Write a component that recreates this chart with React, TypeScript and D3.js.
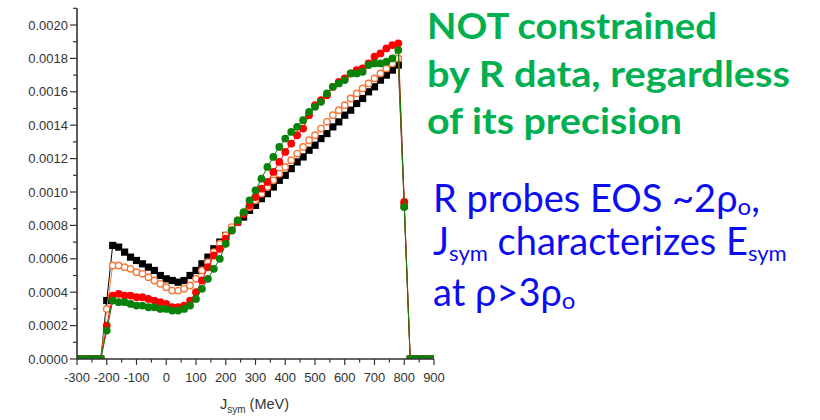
import React from "react";
import * as d3 from "d3";

const XS = [-300, -280, -260, -240, -220, -200, -180, -160, -140, -120, -100, -80, -60, -40, -20, 0, 20, 40, 60, 80, 100, 120, 140, 160, 180, 200, 220, 240, 260, 280, 300, 320, 340, 360, 380, 400, 420, 440, 460, 480, 500, 520, 540, 560, 580, 600, 620, 640, 660, 680, 700, 720, 740, 760, 780, 800, 820, 840, 860, 880, 900];

const BLACK = [0, 0, 0, 0, 0, 0.00035, 0.00068, 0.00067, 0.00064, 0.00061, 0.00059, 0.00057, 0.00055, 0.00053, 0.0005, 0.00048, 0.00047, 0.00046, 0.00047, 0.0005, 0.00053, 0.00057, 0.00061, 0.00066, 0.0007, 0.00074, 0.00078, 0.00082, 0.00085, 0.00089, 0.00092, 0.00096, 0.00099, 0.00103, 0.00107, 0.0011, 0.00114, 0.00118, 0.00121, 0.00125, 0.00128, 0.00132, 0.00135, 0.00139, 0.00142, 0.00146, 0.00149, 0.00153, 0.00156, 0.0016, 0.00163, 0.00167, 0.0017, 0.00173, 0.00176, 0.00092, 0, 0, 0, 0, 0];

const ORANGE = [0, 0, 0, 0, 0, 0.0003, 0.00056, 0.00056, 0.00055, 0.00054, 0.00052, 0.00051, 0.00049, 0.00047, 0.00045, 0.00043, 0.00041, 0.00041, 0.00042, 0.00044, 0.00048, 0.00053, 0.00058, 0.00064, 0.00069, 0.00074, 0.00079, 0.00083, 0.00087, 0.00091, 0.00095, 0.00099, 0.00103, 0.00107, 0.00111, 0.00115, 0.00119, 0.00123, 0.00127, 0.00131, 0.00134, 0.00138, 0.00142, 0.00146, 0.00149, 0.00152, 0.00156, 0.00159, 0.00162, 0.00165, 0.00168, 0.00171, 0.00174, 0.00177, 0.0018, 0.00093, 0, 0, 0, 0, 0];

const RED = [0, 0, 0, 0, 0, 0.0002, 0.00038, 0.00039, 0.00038, 0.00038, 0.00037, 0.00037, 0.00036, 0.00035, 0.00034, 0.00033, 0.00031, 0.00031, 0.00032, 0.00035, 0.0004, 0.00047, 0.00055, 0.00062, 0.00066, 0.00072, 0.00077, 0.00082, 0.00087, 0.00092, 0.00097, 0.00102, 0.00106, 0.00112, 0.00118, 0.00124, 0.00129, 0.00134, 0.00138, 0.00146, 0.00152, 0.00155, 0.00158, 0.00163, 0.00166, 0.00168, 0.00171, 0.00173, 0.00174, 0.00177, 0.00181, 0.00183, 0.00186, 0.00188, 0.00189, 0.00094, 0, 0, 0, 0, 0];

const GREEN = [0, 0, 0, 0, 0, 0.00017, 0.00035, 0.00034, 0.00034, 0.00033, 0.00032, 0.00032, 0.00031, 0.00031, 0.0003, 0.0003, 0.00029, 0.00029, 0.0003, 0.00032, 0.00036, 0.00042, 0.00048, 0.00054, 0.0006, 0.00069, 0.00077, 0.00083, 0.00088, 0.00095, 0.00101, 0.00108, 0.00115, 0.00121, 0.00127, 0.00132, 0.00136, 0.00139, 0.00143, 0.00148, 0.00151, 0.00154, 0.00159, 0.00163, 0.00165, 0.00167, 0.00171, 0.00171, 0.00172, 0.00176, 0.00177, 0.00177, 0.00178, 0.0018, 0.00185, 0.00091, 0, 0, 0, 0, 0];

const X_TICKS = [-300, -200, -100, 0, 100, 200, 300, 400, 500, 600, 700, 800, 900];
const X_MINOR = [-250, -150, -50, 50, 150, 250, 350, 450, 550, 650, 750, 850];
const Y_TICKS = [0, 0.0002, 0.0004, 0.0006, 0.0008, 0.001, 0.0012, 0.0014, 0.0016, 0.0018, 0.002];
const Y_MINOR = [0.0001, 0.0003, 0.0005, 0.0007, 0.0009, 0.0011, 0.0013, 0.0015, 0.0017, 0.0019, 0.0021];

const GREEN_LINES = ["NOT constrained", "by R data, regardless", "of its precision"];
const GREEN_WIDTHS = [290, 363, 255];

export default function App() {
  const x = d3.scaleLinear().domain([-300, 900]).range([77, 434]);
  const y = d3.scaleLinear().domain([0, 0.0021]).range([359, 8.3]);
  const fmt = d3.format(".4f");
  const axisFont = "'Liberation Sans', Arial, sans-serif";
  const axisColor = "#333";

  const series = [
    { vals: BLACK, color: "#000000", kind: "square" },
    { vals: ORANGE, color: "#f5793a", kind: "open" },
    { vals: RED, color: "#ff0000", kind: "circle" },
    { vals: GREEN, color: "#0a820a", kind: "circle" },
  ];

  const line = d3
    .line<number>()
    .x((_, i) => x(XS[i]))
    .y((d) => y(d));

  const textFont = "Lato, 'Open Sans', sans-serif";
  const blue = "#0c0cf0";

  return (
    <svg width={820} height={420} style={{ position: "absolute", left: 0, top: 0, background: "#fff" }}>
      <defs>
        <clipPath id="plotClip">
          <rect x={x(-300)} y={0} width={x(900) - x(-300)} height={y(0)} />
        </clipPath>
      </defs>
      <rect x={0} y={0} width={820} height={420} fill="#fff" />

      {/* series */}
      <g clipPath="url(#plotClip)">
        {series.map((s, si) => (
          <g key={"s" + si}>
            <path d={line(s.vals) || ""} fill="none" stroke={s.color} strokeWidth={1} />
            {s.vals.map((v, i) =>
              s.kind === "square" ? (
                <rect key={i} x={x(XS[i]) - 3.6} y={y(v) - 3.6} width={7.2} height={7.2} fill={s.color} />
              ) : s.kind === "open" ? (
                <circle key={i} cx={x(XS[i])} cy={y(v)} r={3.2} fill="#fff" stroke={s.color} strokeWidth={1.4} />
              ) : (
                <circle key={i} cx={x(XS[i])} cy={y(v)} r={3.9} fill={s.color} />
              )
            )}
          </g>
        ))}
      </g>

      {/* axes */}
      <line x1={x(-300)} x2={x(900)} y1={y(0)} y2={y(0)} stroke={axisColor} strokeWidth={1.6} />
      <line x1={x(-300)} x2={x(-300)} y1={y(0)} y2={y(0.0021)} stroke={axisColor} strokeWidth={1.6} />
      {Y_TICKS.map((t) => (
        <g key={"yt" + t}>
          <line x1={x(-300) - 7} x2={x(-300)} y1={y(t)} y2={y(t)} stroke={axisColor} strokeWidth={1.2} />
          <text x={x(-300) - 9} y={y(t)} dy="0.35em" textAnchor="end" fontFamily={axisFont} fontSize={13} fill="#333">
            {fmt(t)}
          </text>
        </g>
      ))}
      {Y_MINOR.map((t) => (
        <line key={"ym" + t} x1={x(-300) - 4} x2={x(-300)} y1={y(t)} y2={y(t)} stroke={axisColor} strokeWidth={1.2} />
      ))}
      {X_TICKS.map((t) => (
        <g key={"xt" + t}>
          <line x1={x(t)} x2={x(t)} y1={y(0)} y2={y(0) + 6} stroke={axisColor} strokeWidth={1.2} />
          <text x={x(t)} y={382} textAnchor="middle" fontFamily={axisFont} fontSize={13} fill="#333">
            {t}
          </text>
        </g>
      ))}
      {X_MINOR.map((t) => (
        <line key={"xm" + t} x1={x(t)} x2={x(t)} y1={y(0)} y2={y(0) + 3.5} stroke={axisColor} strokeWidth={1.2} />
      ))}
      <text x={220} y={409} fontFamily={axisFont} fontSize={14.5} fill="#333">
        J<tspan fontSize={10} dy={4}>sym</tspan>
        <tspan dy={-4}> (MeV)</tspan>
      </text>

      {/* annotation text */}
      {GREEN_LINES.map((t, i) => (
        <text
          key={"g" + i}
          x={427}
          y={39 + i * 47.5}
          fontFamily={textFont}
          fontWeight="bold"
          fontSize={37}
          fill="#00b050"
          textLength={GREEN_WIDTHS[i]}
          lengthAdjust="spacingAndGlyphs"
        >
          {t}
        </text>
      ))}
      <text x={433} y={212} fontFamily={textFont} fontSize={38} fill={blue}>
        R probes EOS ~2ρ<tspan fontSize={24} dy={3}>o</tspan>
        <tspan dy={-3}>,</tspan>
      </text>
      <text x={433} y={255} fontFamily={textFont} fontSize={38} fill={blue}>
        J<tspan fontSize={22} dy={6}>sym</tspan>
        <tspan dy={-6}> characterizes E</tspan>
        <tspan fontSize={22} dy={6}>sym</tspan>
      </text>
      <text x={433} y={306} fontFamily={textFont} fontSize={38} fill={blue}>
        at ρ&gt;3ρ<tspan fontSize={24} dy={3}>o</tspan>
      </text>
    </svg>
  );
}
